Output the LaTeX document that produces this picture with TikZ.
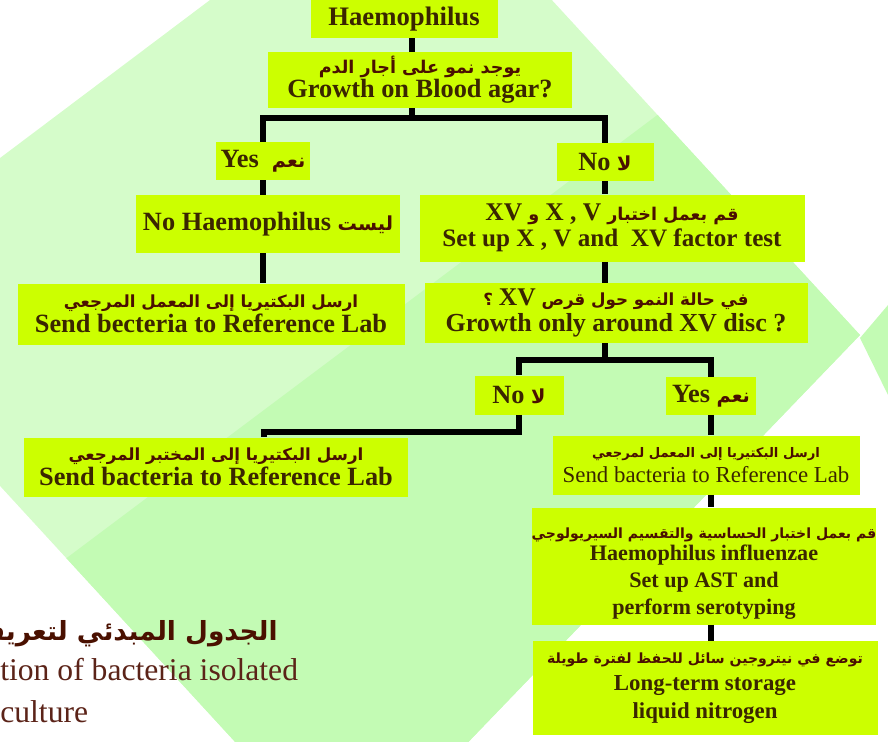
\documentclass[tikz,border=0pt]{standalone}
\usepackage{fontspec}
\setmainfont{Liberation Serif}
\newfontfamily\arfont[Script=Arabic]{DejaVu Sans}
\TeXXeTstate=1
\definecolor{boxfill}{HTML}{CCFF00}
\definecolor{entext}{HTML}{3A2600}
\definecolor{artext}{HTML}{4A1000}
\definecolor{bglight}{HTML}{D5FCCA}
\definecolor{bgdark}{HTML}{C3FBB4}
\definecolor{titletext}{HTML}{5B2318}
\newcommand{\pxu}{0.02cm}
\newcommand{\artxt}[2][10]{{\arfont\bfseries\fontsize{#1}{#1}\selectfont\color{artext}\beginR #2\endR}}
\newcommand{\latinrun}[1]{\beginL{\normalfont\bfseries\fontsize{14.5}{14.5}\selectfont\color{entext}#1}\endL}
\tikzset{
  box/.style={fill=boxfill, inner sep=0pt, align=center, text=entext,
    font=\bfseries\fontsize{15}{14.5}\selectfont},
  sz/.style 2 args={minimum width=#1*\pxu, minimum height=#2*\pxu},
  link/.style={line width=3.4pt, black},
}
\begin{document}
\begin{tikzpicture}[x=\pxu, y=-\pxu]
  \useasboundingbox (0,0) rectangle (888,741);
  %% Background
  \begin{scope}
    \clip (0,0) rectangle (888,741);
    \fill[bglight] (-178,292) -- (412,-152) -- (860,335) -- (349,866) -- cycle;
    \begin{scope}
      \clip (-178,292) -- (412,-152) -- (860,335) -- (349,866) -- cycle;
      \fill[bgdark] (-300,833) -- (1000,-142) -- (1000,1000) -- (-300,1000) -- cycle;
    \end{scope}
    \fill[bgdark] (860,338) -- (888,305) -- (888,395) -- cycle;
    %% Caption
    \node[inner sep=0pt, anchor=base east] (capar) at (278,640)
      {\artxt[15]{الجدول المبدئي لتعريف البكتيريا}};
    \node[inner sep=0pt, anchor=base west, text=titletext, font=\fontsize{18}{18}\selectfont]
      (capen) at (0,680) {tion of bacteria isolated};
    \node[inner sep=0pt, anchor=base west, text=titletext, font=\fontsize{18}{18}\selectfont]
      (capcu) at (0,722) {culture};
  \end{scope}
  %% Boxes
  \node[box, sz={187}{38}, font=\bfseries\fontsize{15.2}{15}\selectfont] (haem) at (404,19) {Haemophilus};
  \node[box, sz={304}{56}, font=\bfseries\fontsize{15}{13.5}\selectfont] (blood) at (420,80)
    {\artxt{يوجد نمو على أجار الدم}\\Growth on Blood agar?};
  \node[box, sz={94}{38}] (yes1) at (263,161) {Yes\ \ \artxt[11]{نعم}};
  \node[box, sz={97}{38}] (no1) at (605,162) {No \artxt[11]{لا}};
  \node[box, sz={264}{58}] (nohaem) at (268,224) {No Haemophilus \artxt[11]{ليست}};
  \node[box, sz={385}{67}, font=\bfseries\fontsize{14.3}{15}\selectfont] (xv) at (612,228)
    {\artxt{قم بعمل اختبار \latinrun{X , V} و \latinrun{XV}}\\Set up X , V and\ \ XV factor test};
  \node[box, sz={387}{61}] (send1) at (211,314)
    {\artxt[9.5]{ارسل البكتيريا إلى المعمل المرجعي}\\Send becteria to Reference Lab};
  \node[box, sz={383}{60}, font=\bfseries\fontsize{14.8}{14.5}\selectfont] (grow) at (616,313)
    {\artxt[9.5]{في حالة النمو حول قرص \latinrun{XV} ؟}\\Growth only around XV disc ?};
  \node[box, sz={89}{39}] (no2) at (519,395) {No \artxt[11]{لا}};
  \node[box, sz={90}{38}] (yes2) at (711,396) {Yes \artxt[11]{نعم}};
  \node[box, sz={384}{59}] (send2) at (216,467)
    {\artxt[9.5]{ارسل البكتيريا إلى المختبر المرجعي}\\Send bacteria to Reference Lab};
  \node[box, sz={307}{59}, font=\fontsize{13}{14}\selectfont] (rsend) at (706,465)
    {\artxt[7.5]{ارسل البكتيريا إلى المعمل لمرجعي}\\Send bacteria to Reference Lab};
  \node[box, sz={343}{117}, font=\bfseries\fontsize{12.6}{15.5}\selectfont] (infl) at (704,566)
    {\rule{0pt}{15pt}\artxt[8]{قم بعمل اختبار الحساسية والتقسيم السيريولوجي}\\[-3pt]Haemophilus influenzae\\Set up AST and\\perform serotyping};
  \node[box, sz={345}{94}, font=\bfseries\fontsize{13}{15.5}\selectfont] (store) at (705,688)
    {\artxt[8]{توضع في نيتروجين سائل للحفظ لفترة طويلة}\\Long-term storage\\liquid nitrogen};
  %% Links
  \coordinate (br1) at (412,118);
  \coordinate (br2) at (605,360);
  \coordinate (bend) at (264,432);
  \draw[link] (haem.south -| br1) -- (blood.north -| br1);
  \draw[link] (blood.south -| br1) -- (br1);
  \draw[link] (yes1.north) |- (br1) -| (no1.north);
  \draw[link] (yes1.south) -- (nohaem.north -| yes1);
  \draw[link] (nohaem.south -| yes1) -- (send1.north -| yes1);
  \draw[link] (no1.south) -- (xv.north -| no1);
  \draw[link] (xv.south -| no1) -- (grow.north -| no1);
  \draw[link] (grow.south -| br2) -- (br2);
  \draw[link] (no2.north) |- (br2) -| (yes2.north);
  \draw[link] (no2.south) |- (bend) -- (send2.north -| bend);
  \draw[link] (yes2.south) -- (rsend.north -| yes2);
  \draw[link] (rsend.south -| yes2) -- (infl.north -| yes2);
  \draw[link] (infl.south -| yes2) -- (store.north -| yes2);
\end{tikzpicture}
\end{document}
